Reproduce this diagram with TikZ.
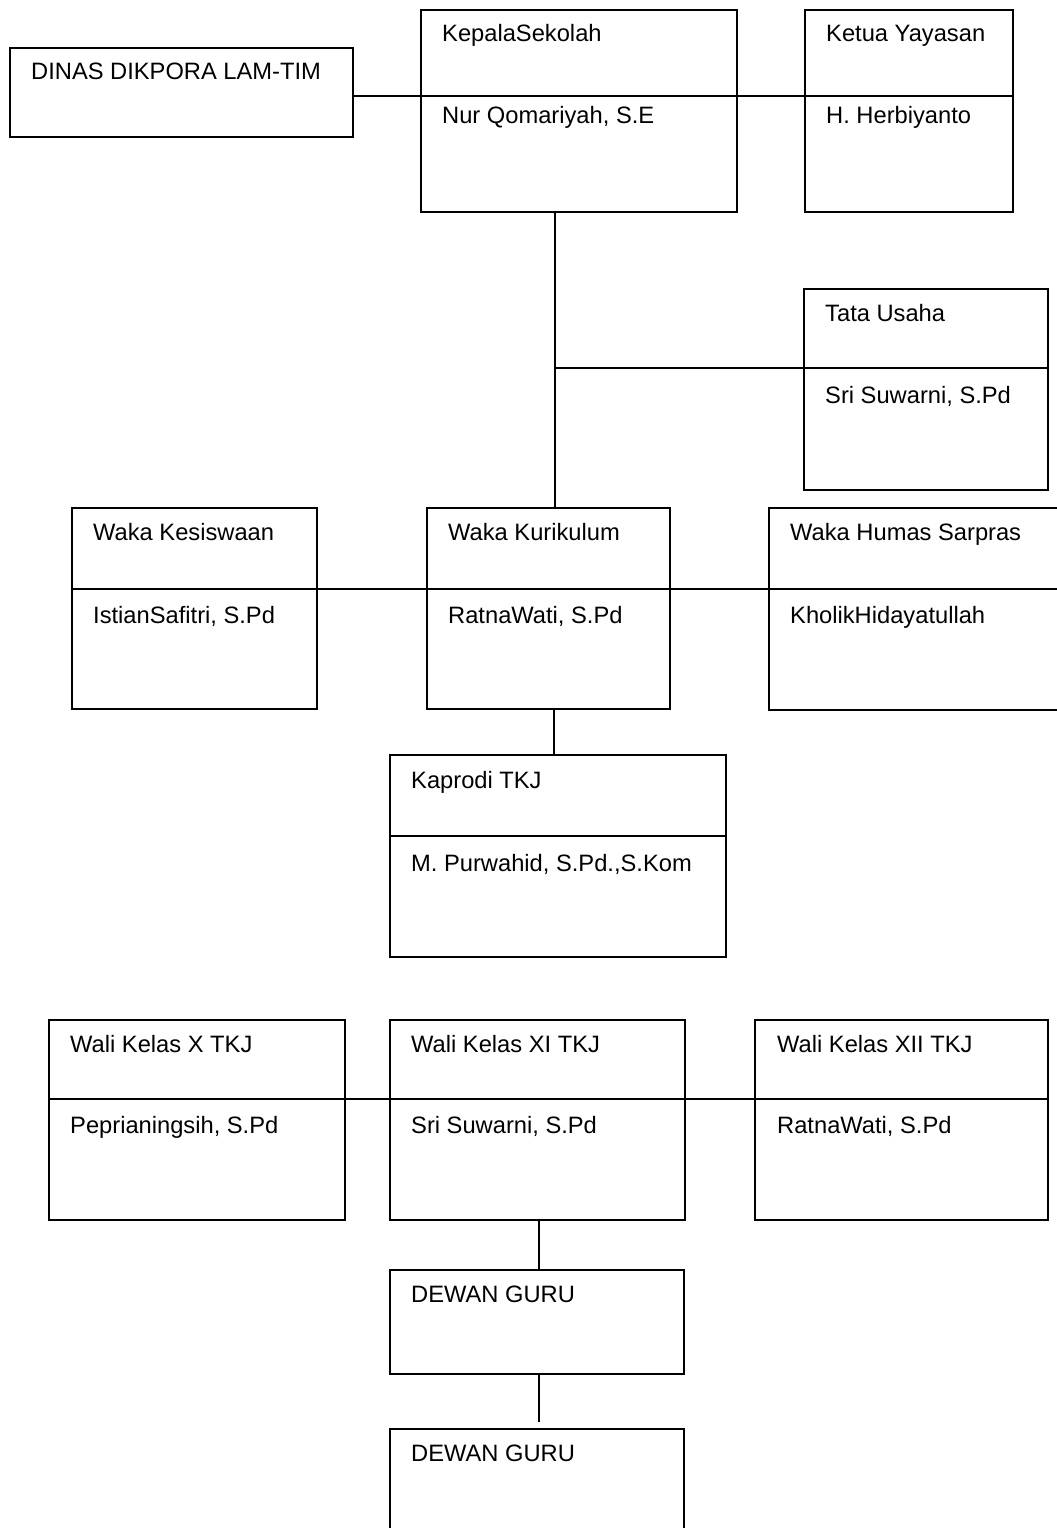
\documentclass[tikz,border=0pt]{standalone}
\usepackage{fontspec}
\setmainfont{Liberation Sans}
\begin{document}
\begin{tikzpicture}[x=1pt,y=-1pt,
  orgbox/.style={draw,line width=1.8pt,rectangle,anchor=north west,inner sep=0pt},
  conn/.style={line width=1.4pt},
  lbl/.style={anchor=base west,inner sep=0pt,font=\fontsize{23.7}{28}\selectfont}]
\useasboundingbox (0,0) rectangle (1057,1528);
\clip (0,0) rectangle (1057,1528);
% boxes
\node[orgbox,minimum width=343pt,minimum height=89pt] (dinas) at (9,47) {};
\node[orgbox,minimum width=316pt,minimum height=202pt] (kepala) at (420,9) {};
\node[orgbox,minimum width=208pt,minimum height=202pt] (ketua) at (804,9) {};
\node[orgbox,minimum width=244pt,minimum height=201pt] (tata) at (803,288) {};
\node[orgbox,minimum width=245pt,minimum height=201pt] (kesis) at (71,507) {};
\node[orgbox,minimum width=243pt,minimum height=201pt] (kurik) at (426,507) {};
\node[orgbox,minimum width=310pt,minimum height=202pt] (humas) at (768,507) {};
\node[orgbox,minimum width=336pt,minimum height=202pt] (kaprodi) at (389,754) {};
\node[orgbox,minimum width=296pt,minimum height=200pt] (walix) at (48,1019) {};
\node[orgbox,minimum width=295pt,minimum height=200pt] (walixi) at (389,1019) {};
\node[orgbox,minimum width=293pt,minimum height=200pt] (walixii) at (754,1019) {};
\node[orgbox,minimum width=294pt,minimum height=104pt] (dewana) at (389,1269) {};
\node[orgbox,minimum width=294pt,minimum height=120pt] (dewanb) at (389,1428) {};
% helper coordinates
\coordinate (ytop) at (0,96);
\coordinate (ytata) at (0,368);
\coordinate (ywaka) at (0,589);
\coordinate (ykap) at (0,836);
\coordinate (ywali) at (0,1099);
\coordinate (xmain) at (555,0);
\coordinate (xkap) at (554,0);
\coordinate (xdew) at (539,0);
% connectors and dividers
\draw[conn] (dinas.east |- ytop) -- (ketua.east |- ytop);
\draw[conn] (kepala.south -| xmain) -- (kurik.north -| xmain);
\draw[conn] (xmain |- ytata) -- (tata.east |- ytata);
\draw[conn] (kesis.west |- ywaka) -- (humas.east |- ywaka);
\draw[conn] (kurik.south -| xkap) -- (kaprodi.north -| xkap);
\draw[conn] (kaprodi.west |- ykap) -- (kaprodi.east |- ykap);
\draw[conn] (walix.west |- ywali) -- (walixii.east |- ywali);
\draw[conn] (walixi.south -| xdew) -- (dewana.north -| xdew);
\draw[conn,shorten >=6pt] (dewana.south -| xdew) -- (dewanb.north -| xdew);
% labels
\node[lbl] (tdinas) at (31,80) {DINAS DIKPORA LAM-TIM};
\node[lbl] (tkepa) at (442,42) {KepalaSekolah};
\node[lbl] (tkepb) at (442,123) {Nur Qomariyah, S.E};
\node[lbl] (tketa) at (826,42) {Ketua Yayasan};
\node[lbl] (tketb) at (826,123) {H. Herbiyanto};
\node[lbl] (ttata) at (825,321) {Tata Usaha};
\node[lbl] (ttatb) at (825,403) {Sri Suwarni, S.Pd};
\node[lbl] (tkesa) at (93,540) {Waka Kesiswaan};
\node[lbl] (tkesb) at (93,623) {IstianSafitri, S.Pd};
\node[lbl] (tkura) at (448,540) {Waka Kurikulum};
\node[lbl] (tkurb) at (448,623) {RatnaWati, S.Pd};
\node[lbl] (thuma) at (790,540) {Waka Humas Sarpras};
\node[lbl] (thumb) at (790,623) {KholikHidayatullah};
\node[lbl] (tkapa) at (411,788) {Kaprodi TKJ};
\node[lbl] (tkapb) at (411,871) {M. Purwahid, S.Pd.,S.Kom};
\node[lbl] (twxa) at (70,1052) {Wali Kelas X TKJ};
\node[lbl] (twxb) at (70,1133) {Peprianingsih, S.Pd};
\node[lbl] (twxia) at (411,1052) {Wali Kelas XI TKJ};
\node[lbl] (twxib) at (411,1133) {Sri Suwarni, S.Pd};
\node[lbl] (twxiia) at (777,1052) {Wali Kelas XII TKJ};
\node[lbl] (twxiib) at (777,1133) {RatnaWati, S.Pd};
\node[lbl] (tdewa) at (411,1302) {DEWAN GURU};
\node[lbl] (tdewb) at (411,1461) {DEWAN GURU};
\end{tikzpicture}
\end{document}
